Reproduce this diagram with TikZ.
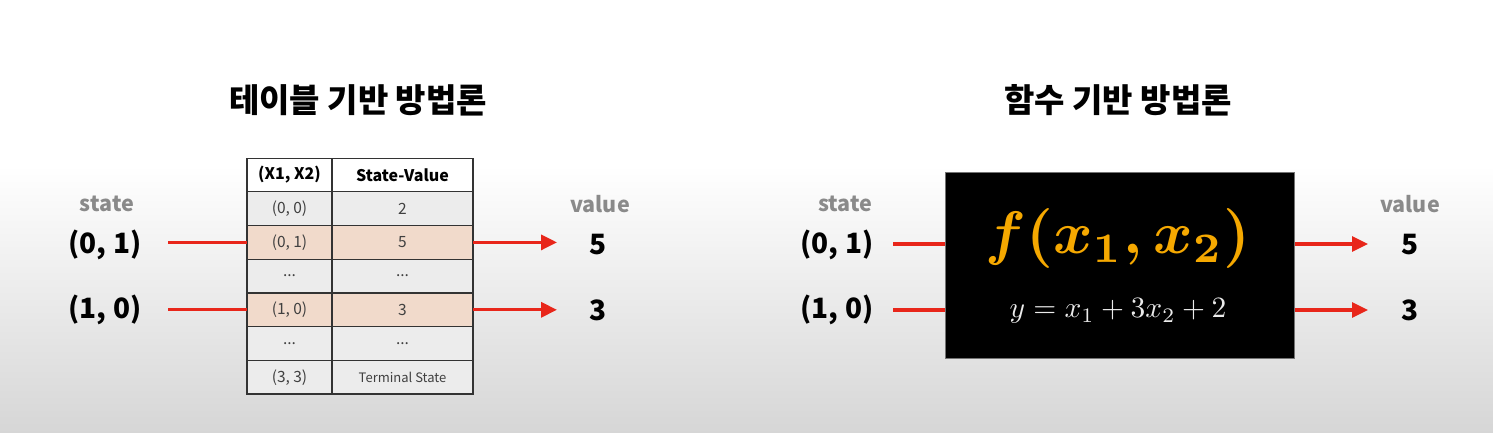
\documentclass[tikz,border=0pt]{standalone}
\usepackage{amsmath,amssymb}
\usepackage{graphicx}
\usepackage{fontspec}
\setmainfont{Noto Sans CJK KR}
\usepackage{xcolor}
\usepackage{tikz}
\usetikzlibrary{arrows.meta,positioning,calc}

\definecolor{arrowred}{HTML}{E8261A}
\definecolor{peach}{HTML}{F1DACB}
\definecolor{rowgray}{HTML}{ECECEC}
\definecolor{fgold}{HTML}{F5A800}
\definecolor{labelgray}{HTML}{8A8A8A}

\begin{document}
\begin{tikzpicture}[
    x=1pt, y=-1pt,
    node distance=0pt,
    cell/.style={rectangle, draw=black!80, line width=1.2pt, minimum height=33.7pt, inner sep=0pt, outer sep=0pt, fill=rowgray, text=black!75, font=\fontsize{15.5}{17}\selectfont},
    keycell/.style={cell, minimum width=85pt},
    valcell/.style={cell, minimum width=141pt},
    headcell/.style={fill=white, text=black, font=\fontsize{16}{18}\selectfont\bfseries},
    hot/.style={fill=peach},
    title/.style={font=\fontsize{33}{36}\selectfont\bfseries},
    small/.style={text=labelgray, font=\fontsize{21.5}{24}\selectfont\bfseries},
    big/.style={font=\fontsize{28}{31}\selectfont\bfseries},
    arrow/.style={-{Triangle[length=16pt, width=15pt]}, arrowred, line width=3.2pt},
    line/.style={arrowred, line width=3.2pt}
]
    \useasboundingbox (0,0) rectangle (1493,432);
    \fill[white] (0,0) rectangle (1493,432);
    \shade[top color=white, bottom color=black!16] (0,165) rectangle (1493,432);

    % table based
    \node[title] (lefttitle) at (358,100) {테이블 기반 방법론};

    \node[keycell, headcell] (keyhead) at (289.5,175) {(X1, X2)};
    \node[valcell, headcell, right=of keyhead] (valhead) {State-Value};
    \node[keycell, below=of keyhead] (k00) {(0, 0)};
    \node[valcell, right=of k00] (v00) {2};
    \node[keycell, hot, below=of k00] (k01) {(0, 1)};
    \node[valcell, hot, right=of k01] (v01) {5};
    \node[keycell, below=of k01] (kdots1) {...};
    \node[valcell, right=of kdots1] (vdots1) {...};
    \node[keycell, hot, below=of kdots1] (k10) {(1, 0)};
    \node[valcell, hot, right=of k10] (v10) {3};
    \node[keycell, below=of k10] (kdots2) {...};
    \node[valcell, right=of kdots2] (vdots2) {...};
    \node[keycell, below=of kdots2] (k33) {(3, 3)};
    \node[valcell, right=of k33, font=\fontsize{13}{15}\selectfont] (v33) {Terminal State};

    \node[small] (lstate) at (107,204) {state};
    \node[big] (lin01) at (105,245) {(0, 1)};
    \node[big] (lin10) at (105,310) {(1, 0)};
    \node[small] (lvalue) at (600,204) {value};
    \node[big] (lout5) at (598,245) {5};
    \node[big] (lout3) at (598,310) {3};

    \coordinate (la) at (168,0);
    \coordinate (lc) at (557,0);
    \draw[line] (la |- k01.west) -- (k01.west);
    \draw[line] (la |- k10.west) -- (k10.west);
    \draw[arrow] (v01.east) -- (lc |- v01.east);
    \draw[arrow] (v10.east) -- (lc |- v10.east);

    % function based
    \node[title] (righttitle) at (1118,100) {함수 기반 방법론};

    \node[rectangle, fill=black, draw=black!55, line width=1pt, minimum width=349pt, minimum height=186pt] (func) at (1119.5,265) {};
    \node[text=fgold] (fx) at (1118,238) {\scalebox{6}{$\boldsymbol{f(x_1,x_2)}$}};
    \node[text=black!8] (eq) at (1118,311) {\scalebox{2.95}{$y=x_1+3x_2+2$}};

    \node[small] (rstate) at (845,204) {state};
    \node[big] (rin01) at (837,245) {(0, 1)};
    \node[big] (rin10) at (837,310) {(1, 0)};
    \node[small] (rvalue) at (1410,204) {value};
    \node[big] (rout5) at (1410,245) {5};
    \node[big] (rout3) at (1410,310) {3};

    \coordinate (ra) at (893,244);
    \coordinate (rb) at (893,310);
    \coordinate (rc) at (1368,244);
    \coordinate (rd) at (1368,310);
    \draw[line] (ra) -- (ra -| func.west);
    \draw[line] (rb) -- (rb -| func.west);
    \draw[arrow] (rc -| func.east) -- (rc);
    \draw[arrow] (rd -| func.east) -- (rd);
\end{tikzpicture}
\end{document}
